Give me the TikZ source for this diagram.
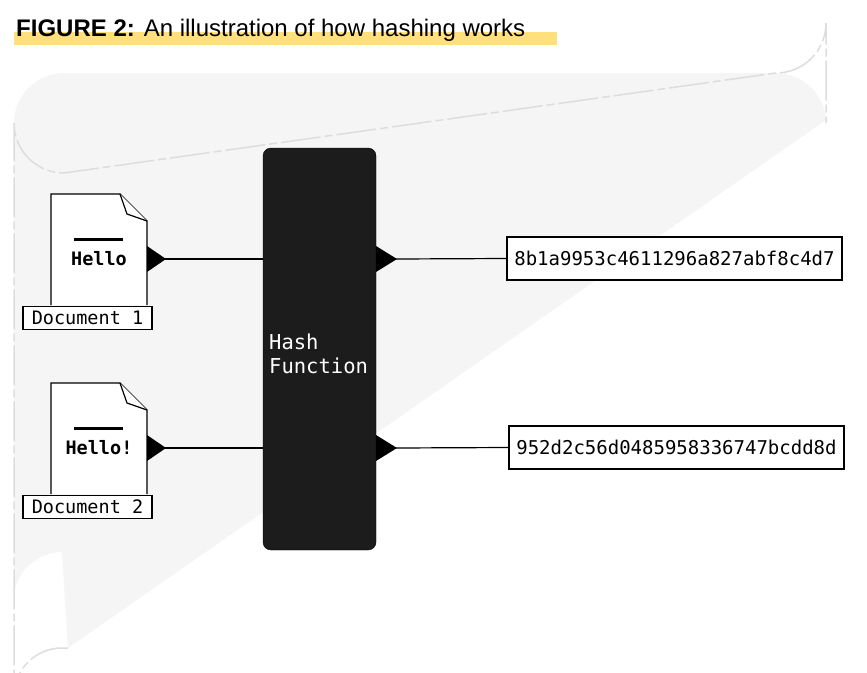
\documentclass[tikz,border=0pt]{standalone}
\usepackage{fontspec}
\setmainfont{Liberation Sans}
\newfontfamily\monof{DejaVu Sans Mono}
\definecolor{bggray}{HTML}{F5F5F5}
\definecolor{bdgray}{HTML}{DDDDDD}
\definecolor{hl}{HTML}{FFE07D}
\definecolor{hashblack}{HTML}{1C1C1C}
\begin{document}
\begin{tikzpicture}[x=1pt,y=-1pt,
  docbody/.style={draw=black,line width=1.2pt,fill=white},
  lbl/.style={draw=black,line width=1.2pt,fill=white,inner sep=0pt,minimum height=23pt,font=\monof\fontsize{18.5}{20}\selectfont},
  outbox/.style={draw=black,line width=1.2pt,fill=white,inner sep=0pt,minimum height=43pt,minimum width=335pt,font=\monof\fontsize{19}{20}\selectfont},
  tri/.style={fill=black},
  conn/.style={line width=1.2pt}]
\useasboundingbox (0,0) rectangle (867,672);
% background
\fill[bggray] (14,120) -- (14,600) arc[start angle=180,end angle=270,radius=48] -- (68,648) -- (826,120) -- (826,123) arc[start angle=0,end angle=-90,radius=50] -- (64,73) arc[start angle=270,end angle=180,radius=50] -- cycle;
\draw[bdgray,line width=1.5pt,dash pattern=on 40pt off 4pt on 8pt off 4pt] (68,648) -- (62,648) arc[start angle=270,end angle=180,radius=48] -- (14,123) arc[start angle=180,end angle=90,radius=50] -- (776,73) arc[start angle=90,end angle=0,radius=50] -- (826,123);
% title
\fill[hl] (14,32) rectangle (557,45);
\node[anchor=base west,inner sep=0pt,font=\fontsize{24}{26}\selectfont] (title) at (16,36) {\textbf{FIGURE 2:} An illustration of how hashing works};
% hash function
\node[draw=black,fill=hashblack,rounded corners=8pt,minimum width=113pt,minimum height=402pt,inner sep=0pt] (hash) at (319.5,349) {};
\node[anchor=west,align=left,text=white,inner sep=0pt,font=\monof\fontsize{20.5}{24}\selectfont] (hashlbl) at (269,354) {Hash\\Function};
% documents
\foreach \i/\dy/\txt in {1/0/Hello,2/189/Hello!}{
  \begin{scope}[yshift=-\dy]
  \draw[docbody] (51,305) -- (51,194) -- (120,194) -- (147,221) -- (147,305);
  \draw[line width=1.2pt,fill=white] (120,194) -- (127,214) -- (147,221);
  \draw[line width=3pt] (74,239) -- (123,239);
  \node[font=\monof\bfseries\fontsize{18.5}{20}\selectfont,inner sep=0pt] (hello\i) at (99,259) {\txt};
  \node[lbl,minimum width=129pt] (doc\i) at (87.5,318) {Document \i};
  \coordinate (din\i) at (165,259);
  \coordinate (hin\i) at (263,259);
  \coordinate (hout\i) at (396,259);
  \fill[tri] (147,246) -- (166,259) -- (147,272) -- cycle;
  \fill[tri] (376,246) -- (397,259) -- (376,272) -- cycle;
  \end{scope}
}
\node[outbox] (out1) at (674.5,258.5) {8b1a9953c4611296a827abf8c4d7};
\node[outbox] (out2) at (676.5,447.5) {952d2c56d0485958336747bcdd8d};
\draw[conn] (din1) -- (hin1);
\draw[conn] (din2) -- (hin2);
\draw[conn] (hout1) -- (out1.west);
\draw[conn] (hout2) -- (out2.west);
\end{tikzpicture}
\end{document}
